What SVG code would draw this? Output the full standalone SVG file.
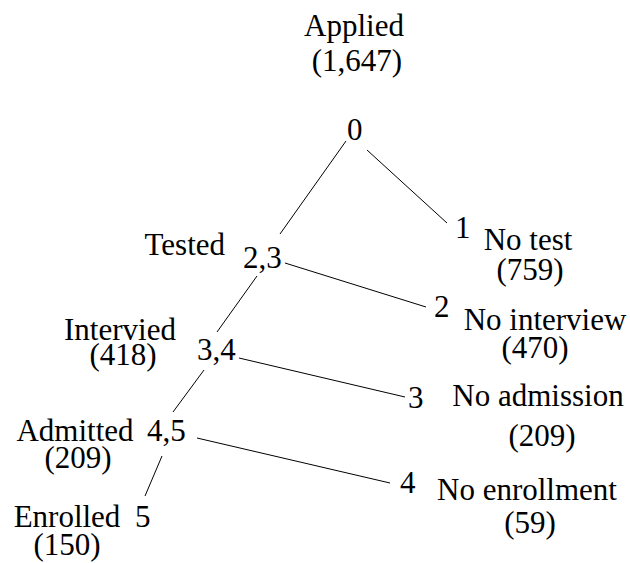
<svg xmlns="http://www.w3.org/2000/svg" width="630" height="563" viewBox="0 0 630 563" font-family="Liberation Serif">
<rect width="630" height="563" fill="#fff"/>
<g id="connectors" stroke="#000" stroke-width="1" fill="none">
<line x1="346" y1="141" x2="280" y2="234"/>
<line x1="367" y1="150" x2="447" y2="223"/>
<line x1="285" y1="263" x2="426" y2="307"/>
<line x1="257" y1="276" x2="217" y2="332"/>
<line x1="239" y1="358" x2="405" y2="397"/>
<line x1="204" y1="370" x2="173" y2="412"/>
<line x1="197" y1="438" x2="390" y2="483"/>
<line x1="162" y1="456" x2="145" y2="496"/>
</g>
<g id="n0">
<text font-family="Liberation Serif" font-size="31" text-anchor="middle" x="354" y="36">Applied</text>
<text font-family="Liberation Serif" font-size="31" text-anchor="middle" x="357" y="71">(1,647)</text>
<text font-family="Liberation Serif" font-size="31" x="347" y="140">0</text>
</g>
<g id="n1">
<text font-family="Liberation Serif" font-size="31" x="455" y="238">1</text>
<text font-family="Liberation Serif" font-size="31" text-anchor="middle" x="528" y="250">No test</text>
<text font-family="Liberation Serif" font-size="31" text-anchor="middle" x="530" y="280">(759)</text>
</g>
<g id="n23">
<text font-family="Liberation Serif" font-size="31" text-anchor="end" x="225" y="255">Tested</text>
<text font-family="Liberation Serif" font-size="31" x="243" y="268">2,3</text>
</g>
<g id="n2">
<text font-family="Liberation Serif" font-size="31" x="434" y="317">2</text>
<text font-family="Liberation Serif" font-size="31" text-anchor="middle" x="545" y="330">No interview</text>
<text font-family="Liberation Serif" font-size="31" text-anchor="middle" x="535" y="358">(470)</text>
</g>
<g id="n34">
<text font-family="Liberation Serif" font-size="31" text-anchor="middle" x="120" y="340">Intervied</text>
<text font-family="Liberation Serif" font-size="31" text-anchor="middle" x="123" y="365">(418)</text>
<text font-family="Liberation Serif" font-size="31" x="197" y="360">3,4</text>
</g>
<g id="n3">
<text font-family="Liberation Serif" font-size="31" x="408" y="408">3</text>
<text font-family="Liberation Serif" font-size="31" text-anchor="middle" x="538" y="406">No admission</text>
<text font-family="Liberation Serif" font-size="31" text-anchor="middle" x="542" y="446">(209)</text>
</g>
<g id="n45">
<text font-family="Liberation Serif" font-size="31" text-anchor="middle" x="75" y="441">Admitted</text>
<text font-family="Liberation Serif" font-size="31" text-anchor="middle" x="78" y="468">(209)</text>
<text font-family="Liberation Serif" font-size="31" x="147" y="441">4,5</text>
</g>
<g id="n4">
<text font-family="Liberation Serif" font-size="31" x="400" y="493">4</text>
<text font-family="Liberation Serif" font-size="31" text-anchor="middle" x="527" y="500">No enrollment</text>
<text font-family="Liberation Serif" font-size="31" text-anchor="middle" x="530" y="533">(59)</text>
</g>
<g id="n5">
<text font-family="Liberation Serif" font-size="31" text-anchor="middle" x="67" y="527">Enrolled</text>
<text font-family="Liberation Serif" font-size="31" x="135" y="527">5</text>
<text font-family="Liberation Serif" font-size="31" text-anchor="middle" x="67" y="555">(150)</text>
</g>
</svg>
